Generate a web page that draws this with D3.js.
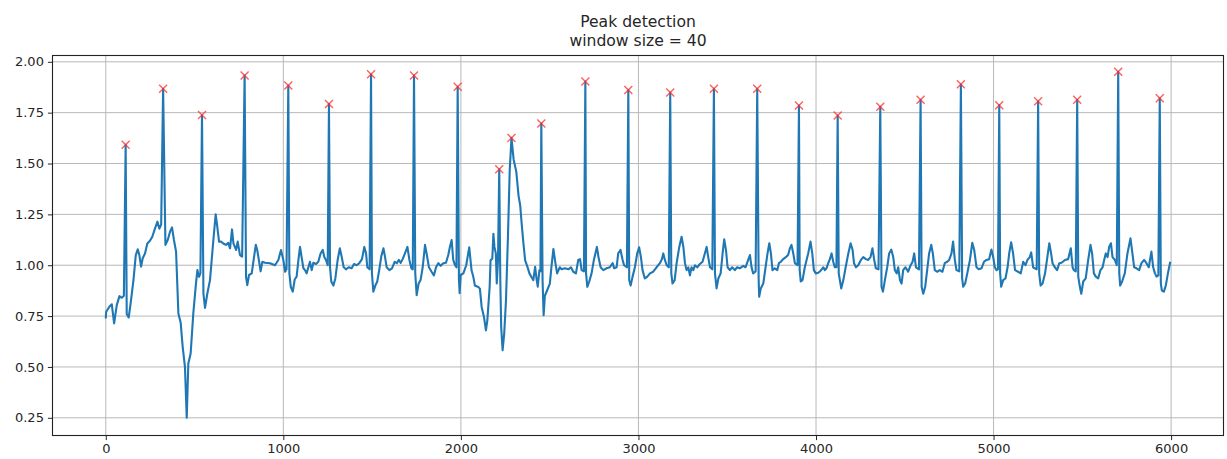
<!DOCTYPE html>
<html>
<head>
<meta charset="utf-8">
<script src="https://cdn.jsdelivr.net/npm/d3@7/dist/d3.min.js"></script>
<style>
  html, body { margin: 0; padding: 0; background: #fff; }
  svg { display: block; font-family: "DejaVu Sans", sans-serif; }
</style>
</head>
<body>
<svg id="chart" width="1227" height="459"></svg>
<script>
// ECG trace (sample index, amplitude) between R peaks
const ecgTrace = [
  [0,0.738],[2,0.77],[20,0.796],[34,0.808],[47,0.714],[62,0.804],[77,0.848],[90,0.84],[102,0.85],
  [118,0.76],[129,0.743],[140,0.812],[156,0.927],[169,1.05],[180,1.078],[189,1.05],[199,0.993],[208,1.034],
  [221,1.058],[234,1.107],[249,1.12],[262,1.14],[277,1.18],[291,1.214],[302,1.18],[312,1.20],
  [336,1.10],[349,1.124],[362,1.165],[373,1.186],[384,1.124],[396,1.066],[409,0.763],[422,0.717],
  [433,0.60],[446,0.50],[456,0.25],[465,0.517],[478,0.566],[493,0.763],[508,0.91],[516,0.976],[525,0.943],[533,0.96],
  [550,0.86],[559,0.79],[572,0.861],[587,0.927],[606,1.124],[619,1.25],[628,1.19],[638,1.116],[649,1.116],
  [662,1.107],[677,1.10],[690,1.11],[700,1.083],[711,1.176],[719,1.107],[734,1.075],[743,1.116],[756,1.05],[768,1.042],
  [790,0.943],[797,0.902],[807,0.952],[822,0.96],[835,1.04],[845,1.10],[854,1.07],[865,1.01],[872,0.97],
  [882,1.017],[897,1.012],[925,1.01],[953,1.0],[972,1.026],[987,1.075],[1000,1.026],[1010,0.968],[1018,0.98],
  [1034,0.96],[1042,0.894],[1053,0.87],[1064,0.93],[1075,0.944],[1085,1.026],[1094,1.09],[1103,1.04],
  [1113,0.985],[1122,0.976],[1131,0.96],[1141,0.99],[1150,1.017],[1160,0.976],[1169,1.012],[1184,1.006],
  [1197,1.017],[1210,1.058],[1222,1.075],[1231,1.04],[1240,1.026],[1250,1.00],
  [1263,0.99],[1270,0.92],[1282,0.90],[1293,0.935],[1306,1.026],[1318,1.083],[1329,1.04],[1340,0.99],
  [1353,0.98],[1368,0.99],[1385,0.985],[1398,1.006],[1413,1.0],[1428,1.01],[1443,1.03],[1456,1.09],
  [1466,1.058],[1473,0.99],[1486,0.98],
  [1499,0.96],[1507,0.87],[1518,0.90],[1529,0.92],[1540,0.976],[1552,1.045],[1564,1.083],[1573,1.04],
  [1582,0.99],[1597,0.976],[1612,0.985],[1627,1.017],[1639,1.01],[1650,1.026],[1661,1.012],[1672,1.03],
  [1685,1.058],[1699,1.09],[1710,1.026],[1721,0.985],[1729,0.98],
  [1743,0.96],[1751,0.853],[1762,0.91],[1773,0.927],[1785,0.99],[1798,1.10],[1807,1.058],[1820,0.99],
  [1835,0.968],[1848,0.95],[1860,0.99],[1873,1.01],[1886,0.997],[1901,1.01],[1916,1.012],[1929,1.05],
  [1938,1.09],[1948,1.124],[1957,1.026],[1967,1.0],[1975,0.99],
  [1989,0.93],[1993,0.862],[1999,0.952],[2014,0.96],[2030,1.00],[2047,1.088],[2060,0.975],[2070,0.943],
  [2079,0.90],[2098,0.893],[2107,0.885],[2117,0.795],[2130,0.746],[2141,0.68],[2149,0.729],
  [2162,0.893],[2167,1.024],[2177,1.032],[2183,1.155],[2189,1.09],[2197,1.057],[2202,0.91],[2209,1.024],
  [2222,0.925],[2227,0.696],[2235,0.582],[2244,0.664],[2254,0.828],[2265,1.139],[2275,1.467],
  [2297,1.52],[2312,1.46],[2325,1.34],[2334,1.295],[2343,1.197],[2353,1.10],[2362,1.024],[2375,0.992],
  [2386,0.96],[2399,0.94],[2408,0.927],[2418,0.992],[2427,0.927],[2433,0.895],[2442,0.975],[2448,0.97],
  [2460,0.927],[2466,0.754],[2473,0.85],[2486,0.877],[2501,0.91],[2510,0.992],[2521,1.08],[2533,1.007],
  [2542,0.96],[2557,0.99],[2567,0.98],[2586,0.985],[2605,0.98],[2620,0.99],[2633,0.968],[2648,0.96],
  [2661,1.026],[2671,1.03],[2680,0.976],[2693,0.97],
  [2705,0.96],[2712,0.894],[2723,0.92],[2736,0.96],[2749,1.026],[2766,1.09],[2775,1.04],[2787,0.99],
  [2802,0.976],[2821,0.985],[2839,0.99],[2855,1.01],[2863,0.985],[2877,0.99],[2886,1.058],[2899,1.075],
  [2911,1.026],[2919,1.0],[2935,0.99],
  [2948,0.927],[2956,0.90],[2967,0.944],[2980,0.99],[2993,1.058],[3004,1.088],[3014,1.04],[3023,0.976],
  [3036,0.935],[3050,0.944],[3065,0.96],[3083,0.968],[3102,0.99],[3121,1.01],[3132,1.03],[3140,1.058],
  [3149,1.026],[3159,1.0],[3171,0.99],
  [3185,0.96],[3192,0.91],[3204,0.927],[3215,1.01],[3230,1.09],[3243,1.14],[3253,1.09],[3262,1.01],
  [3271,0.976],[3281,0.99],[3290,0.95],[3299,0.99],[3309,0.976],[3318,1.0],[3331,0.99],[3346,1.006],
  [3361,1.017],[3374,1.058],[3384,1.09],[3393,1.04],[3403,0.99],[3416,0.98],
  [3431,0.96],[3440,0.886],[3450,0.935],[3463,0.96],[3474,1.058],[3483,1.127],[3493,1.075],[3502,0.99],
  [3515,0.976],[3528,0.99],[3543,0.976],[3556,0.99],[3571,0.985],[3590,0.997],[3603,0.99],[3618,1.026],
  [3628,1.05],[3637,0.99],[3646,0.96],[3660,0.97],
  [3677,0.93],[3680,0.845],[3689,0.886],[3703,0.91],[3716,0.99],[3727,1.058],[3737,1.108],[3746,1.058],
  [3755,0.976],[3768,0.985],[3782,0.976],[3791,1.01],[3802,1.017],[3815,1.03],[3830,1.04],[3843,1.05],
  [3853,1.083],[3862,1.10],[3872,1.058],[3881,1.01],[3896,1.0],
  [3908,0.976],[3914,0.92],[3924,0.927],[3937,0.99],[3956,1.058],[3969,1.116],[3979,1.058],[3988,0.976],
  [3999,0.96],[4013,0.963],[4026,0.973],[4041,0.99],[4050,0.976],[4059,0.985],[4069,1.01],[4078,1.03],
  [4088,1.058],[4097,1.017],[4106,0.99],[4115,0.99],
  [4128,0.96],[4142,0.886],[4154,0.927],[4167,0.99],[4182,1.058],[4195,1.108],[4206,1.075],[4214,1.01],
  [4225,0.99],[4238,1.0],[4253,1.026],[4266,1.04],[4281,1.03],[4294,1.026],[4307,1.04],[4318,1.083],
  [4328,1.026],[4337,0.985],[4352,0.98],
  [4369,0.894],[4377,0.87],[4388,0.927],[4401,0.99],[4412,1.058],[4424,1.077],[4435,1.04],[4444,0.976],
  [4454,0.96],[4463,0.99],[4473,0.927],[4482,0.91],[4491,0.976],[4504,0.99],[4519,0.968],[4533,1.0],
  [4544,1.017],[4553,1.058],[4563,0.99],[4580,0.98],
  [4595,0.894],[4604,0.86],[4615,0.894],[4626,0.976],[4637,1.058],[4649,1.10],[4658,1.058],[4669,0.976],
  [4682,0.968],[4697,0.976],[4712,0.968],[4725,1.01],[4739,1.017],[4750,1.026],[4763,1.058],[4772,1.116],
  [4782,1.026],[4791,0.976],[4807,0.97],
  [4823,0.935],[4829,0.894],[4840,0.91],[4852,0.96],[4867,1.026],[4880,1.11],[4891,1.075],[4904,0.99],
  [4917,0.98],[4932,0.985],[4946,1.017],[4960,1.026],[4975,1.03],[4988,1.077],[4998,1.04],[5007,0.99],
  [5017,0.976],[5025,0.98],
  [5037,0.96],[5043,0.894],[5054,0.927],[5067,0.935],[5079,0.99],[5088,1.058],[5099,1.113],[5110,1.058],
  [5121,0.976],[5138,0.968],[5153,0.96],[5167,1.017],[5180,1.0],[5191,1.026],[5204,1.04],[5212,1.063],
  [5223,0.99],[5232,0.985],[5243,0.98],
  [5257,0.96],[5265,0.90],[5276,0.91],[5290,0.96],[5303,1.04],[5314,1.108],[5324,1.058],[5332,1.01],
  [5345,0.99],[5358,0.976],[5370,1.01],[5383,1.012],[5402,1.026],[5420,1.03],[5435,1.083],[5445,0.99],
  [5452,0.976],[5463,0.97],
  [5477,0.944],[5486,0.894],[5494,0.86],[5505,0.92],[5519,0.935],[5533,1.026],[5546,1.10],[5555,1.058],
  [5565,0.96],[5576,0.944],[5589,0.935],[5602,0.976],[5614,0.99],[5623,1.026],[5632,1.058],[5642,1.04],
  [5651,1.09],[5661,1.108],[5670,1.04],[5683,1.026],[5694,1.0],
  [5708,0.96],[5713,0.90],[5724,0.92],[5739,0.96],[5754,1.058],[5771,1.132],[5782,1.058],[5792,0.99],
  [5805,0.985],[5820,0.976],[5833,1.01],[5848,1.026],[5861,1.01],[5874,0.99],[5889,1.067],[5899,0.99],
  [5909,0.96],[5918,0.944],[5928,0.95],
  [5942,0.91],[5948,0.875],[5959,0.87],[5970,0.90],[5982,0.96],[5995,1.017]
];

// Detected peaks (window size = 40)
const peakIdx = [112, 323, 542, 782, 1028, 1257, 1494, 1736, 1982, 2216, 2285, 2453, 2701, 2943,
  3179, 3425, 3669, 3904, 4122, 4362, 4589, 4816, 5032, 5251, 5471, 5702, 5936];
const peakVal = [1.592, 1.867, 1.738, 1.933, 1.883, 1.793, 1.939, 1.933, 1.877, 1.472, 1.626, 1.697, 1.903, 1.861,
  1.849, 1.867, 1.867, 1.785, 1.736, 1.779, 1.813, 1.890, 1.787, 1.806, 1.813, 1.951, 1.821];

const xTicks = [0, 1000, 2000, 3000, 4000, 5000, 6000];
const yTicks = [0.25, 0.50, 0.75, 1.00, 1.25, 1.50, 1.75, 2.00];
const titleLines = ["Peak detection", "window size = 40"];

const peaks = peakIdx.map((x, i) => [x, peakVal[i]]);
const signal = ecgTrace.concat(peaks).sort((a, b) => a[0] - b[0]);

const svg = d3.select("#chart");
const m = { left: 52.5, top: 55.5, right: 1223.5, bottom: 435.5 };

const x = d3.scaleLinear().domain([-300, 6295]).range([m.left, m.right]);
const y = d3.scaleLinear().domain([0.163, 2.031]).range([m.bottom, m.top]);

const textColor = "#262626";

// grid
const grid = svg.append("g");
grid.selectAll("line.gx").data(xTicks).join("line")
  .attr("x1", d => x(d)).attr("x2", d => x(d))
  .attr("y1", m.top).attr("y2", m.bottom)
  .attr("stroke", "#b8b8b8").attr("stroke-width", 1);
grid.selectAll("line.gy").data(yTicks).join("line")
  .attr("y1", d => y(d)).attr("y2", d => y(d))
  .attr("x1", m.left).attr("x2", m.right)
  .attr("stroke", "#b8b8b8").attr("stroke-width", 1);

// signal
svg.append("path")
  .datum(signal)
  .attr("fill", "none")
  .attr("stroke", "#1f77b4")
  .attr("stroke-width", 2.1)
  .attr("stroke-linejoin", "round")
  .attr("d", d3.line().x(d => x(d[0])).y(d => y(d[1])));

// peak markers
const s = 4;
svg.append("g").selectAll("path").data(peaks).join("path")
  .attr("transform", d => `translate(${x(d[0])},${y(d[1])})`)
  .attr("d", `M${-s},${-s}L${s},${s}M${-s},${s}L${s},${-s}`)
  .attr("stroke", "#ff2a2a")
  .attr("stroke-opacity", 0.75)
  .attr("stroke-width", 1.4)
  .attr("fill", "none");

// axes
const xAxis = d3.axisBottom(x).tickValues(xTicks).tickFormat(d3.format("d")).tickSize(4.6).tickPadding(4);
const yAxis = d3.axisLeft(y).tickValues(yTicks).tickFormat(d3.format(".2f")).tickSize(4.6).tickPadding(4);

const gx = svg.append("g").attr("transform", `translate(0,${m.bottom})`).call(xAxis);
const gy = svg.append("g").attr("transform", `translate(${m.left},0)`).call(yAxis);
[gx, gy].forEach(g => {
  g.select(".domain").remove();
  g.selectAll(".tick line").attr("stroke", textColor).attr("stroke-width", 1);
  g.selectAll(".tick text").attr("fill", textColor)
    .style("font-family", "'DejaVu Sans', sans-serif").style("font-size", "13px");
});

// frame
svg.append("rect")
  .attr("x", m.left).attr("y", m.top)
  .attr("width", m.right - m.left).attr("height", m.bottom - m.top)
  .attr("fill", "none").attr("stroke", "#222").attr("stroke-width", 1.1);

// title
svg.append("g").selectAll("text").data(titleLines).join("text")
  .attr("x", (m.left + m.right) / 2)
  .attr("y", (d, i) => 27 + i * 18.7)
  .attr("text-anchor", "middle")
  .attr("fill", textColor)
  .style("font-size", "15.6px")
  .text(d => d);
</script>
</body>
</html>
